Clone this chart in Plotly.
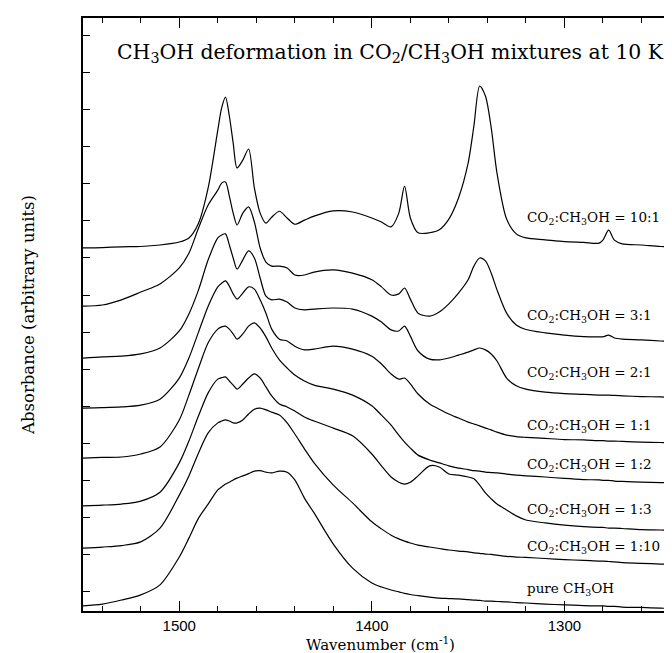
import plotly.graph_objects as go

# Wavenumber grid (cm^-1)
wavenumber = [1550, 1540, 1530, 1520, 1510, 1500, 1495, 1490, 1485, 1480, 1478, 1476, 1474, 1472, 1470,
              1467, 1464, 1461, 1458, 1455, 1452, 1448, 1444, 1440, 1435, 1430, 1420, 1410, 1400, 1395,
              1390, 1386, 1383, 1380, 1376, 1370, 1365, 1360, 1355, 1350, 1347, 1344, 1341, 1338, 1335,
              1330, 1325, 1320, 1310, 1300, 1290, 1282, 1280, 1277, 1274, 1270, 1260, 1250, 1241]

# Offset absorbance (arbitrary units), one list per mixture
ratio_10_1 = [9.27, 9.28, 9.30, 9.31, 9.35, 9.43, 9.54, 9.94, 10.89, 12.45, 13.05, 13.34, 12.83, 12.10, 11.43,
              11.64, 11.94, 10.89, 10.21, 9.94, 10.10, 10.26, 10.08, 9.91, 10.02, 10.13, 10.27, 10.24, 10.08, 9.97,
              9.84, 10.21, 10.94, 10.08, 9.68, 9.68, 9.76, 10.05, 10.62, 11.56, 12.56, 13.64, 13.37, 12.51, 11.29,
              10.05, 9.65, 9.54, 9.49, 9.44, 9.42, 9.40, 9.48, 9.75, 9.48, 9.38, 9.35, 9.31, 9.30]
ratio_3_1 = [7.70, 7.73, 7.87, 8.08, 8.30, 8.73, 9.13, 9.81, 10.43, 10.83, 11.02, 11.05, 10.67, 10.21, 9.89,
             10.21, 10.38, 9.97, 9.27, 8.89, 8.78, 8.78, 8.73, 8.54, 8.54, 8.62, 8.68, 8.59, 8.41, 8.22,
             8.00, 8.03, 8.19, 7.89, 7.51, 7.43, 7.54, 7.76, 8.05, 8.41, 8.78, 9.00, 8.92, 8.59, 8.14,
             7.51, 7.19, 7.07, 6.98, 6.92, 6.88, 6.87, 6.87, 6.92, 6.84, 6.81, 6.79, 6.76, 6.73]
ratio_2_1 = [6.30, 6.33, 6.35, 6.41, 6.57, 7.03, 7.49, 8.14, 8.95, 9.54, 9.62, 9.65, 9.35, 9.00, 8.70,
             8.95, 9.19, 9.00, 8.46, 7.97, 7.87, 7.89, 7.81, 7.65, 7.60, 7.62, 7.65, 7.62, 7.43, 7.27,
             7.06, 7.03, 7.16, 6.89, 6.49, 6.27, 6.25, 6.30, 6.38, 6.46, 6.52, 6.57, 6.52, 6.41, 6.22,
             5.76, 5.55, 5.46, 5.38, 5.34, 5.32, 5.30, 5.30, 5.30, 5.29, 5.28, 5.26, 5.25, 5.23]
ratio_1_1 = [4.95, 4.96, 4.98, 5.03, 5.19, 5.76, 6.30, 7.00, 7.70, 8.22, 8.32, 8.38, 8.24, 8.03, 7.89,
             8.05, 8.22, 8.16, 7.87, 7.51, 7.08, 6.81, 6.76, 6.62, 6.52, 6.54, 6.62, 6.54, 6.35, 6.14,
             5.87, 5.73, 5.76, 5.60, 5.33, 5.06, 4.92, 4.79, 4.68, 4.57, 4.52, 4.47, 4.41, 4.36, 4.30,
             4.22, 4.18, 4.16, 4.13, 4.10, 4.09, 4.07, 4.07, 4.06, 4.06, 4.05, 4.03, 4.02, 4.01]
ratio_1_2 = [3.60, 3.62, 3.63, 3.71, 3.90, 4.63, 5.30, 6.03, 6.71, 7.08, 7.14, 7.16, 7.08, 6.95, 6.81,
             6.95, 7.16, 7.25, 7.11, 6.87, 6.57, 6.25, 6.03, 5.84, 5.68, 5.57, 5.46, 5.30, 5.01, 4.76,
             4.49, 4.22, 4.03, 3.87, 3.68, 3.55, 3.47, 3.39, 3.33, 3.29, 3.26, 3.25, 3.22, 3.21, 3.20,
             3.17, 3.14, 3.12, 3.09, 3.05, 3.02, 3.01, 3.00, 3.00, 2.98, 2.97, 2.95, 2.94, 2.93]
ratio_1_3 = [2.31, 2.33, 2.36, 2.44, 2.68, 3.47, 4.06, 4.74, 5.36, 5.73, 5.77, 5.79, 5.68, 5.57, 5.46,
             5.60, 5.76, 5.87, 5.76, 5.52, 5.28, 5.06, 4.98, 4.87, 4.71, 4.60, 4.41, 4.20, 3.71, 3.39,
             3.09, 2.95, 2.90, 2.95, 3.12, 3.39, 3.36, 3.17, 3.14, 3.09, 3.04, 2.87, 2.66, 2.50, 2.36,
             2.20, 2.04, 1.93, 1.85, 1.79, 1.75, 1.73, 1.73, 1.71, 1.71, 1.70, 1.67, 1.66, 1.64]
ratio_1_10 = [1.17, 1.20, 1.24, 1.34, 1.71, 2.60, 3.12, 3.74, 4.28, 4.55, 4.60, 4.63, 4.60, 4.55, 4.55,
              4.63, 4.79, 4.92, 4.95, 4.90, 4.84, 4.76, 4.55, 4.25, 3.85, 3.47, 2.87, 2.39, 1.88, 1.69,
              1.52, 1.42, 1.36, 1.31, 1.25, 1.20, 1.16, 1.12, 1.09, 1.07, 1.04, 1.03, 1.01, 1.00, 0.98,
              0.95, 0.93, 0.92, 0.89, 0.86, 0.84, 0.82, 0.82, 0.81, 0.80, 0.78, 0.76, 0.74, 0.72]
pure_ch3oh = [-0.39, -0.34, -0.23, -0.09, 0.18, 0.93, 1.44, 1.98, 2.36, 2.74, 2.82, 2.90, 2.95, 3.01, 3.06,
              3.12, 3.18, 3.25, 3.26, 3.22, 3.20, 3.25, 3.22, 3.01, 2.52, 2.12, 1.28, 0.63, 0.23, 0.12,
              0.04, -0.01, -0.05, -0.08, -0.11, -0.15, -0.18, -0.19, -0.20, -0.22, -0.23, -0.24, -0.26, -0.26, -0.27,
              -0.28, -0.30, -0.31, -0.34, -0.36, -0.38, -0.39, -0.39, -0.40, -0.40, -0.42, -0.43, -0.45, -0.46]

series = [ratio_10_1, ratio_3_1, ratio_2_1, ratio_1_1, ratio_1_2, ratio_1_3, ratio_1_10, pure_ch3oh]
labels = ["CO<sub>2</sub>:CH<sub>3</sub>OH = 10:1", "CO<sub>2</sub>:CH<sub>3</sub>OH = 3:1",
          "CO<sub>2</sub>:CH<sub>3</sub>OH = 2:1", "CO<sub>2</sub>:CH<sub>3</sub>OH = 1:1",
          "CO<sub>2</sub>:CH<sub>3</sub>OH = 1:2", "CO<sub>2</sub>:CH<sub>3</sub>OH = 1:3",
          "CO<sub>2</sub>:CH<sub>3</sub>OH = 1:10", "pure CH<sub>3</sub>OH"]

label_x = 1320
label_y = [10.08, 7.43, 5.90, 4.47, 3.41, 2.20, 1.20, 0.07]

SERIF = "DejaVu Serif"

fig = go.Figure()
for ys in series:
    fig.add_trace(go.Scatter(x=wavenumber, y=ys, mode="lines",
                             line=dict(color="black", width=1.2, shape="spline", smoothing=0.8),
                             showlegend=False, hoverinfo="skip"))

for txt, ly in zip(labels, label_y):
    fig.add_annotation(x=label_x, y=ly, xref="x", yref="y", text=txt, showarrow=False,
                       xanchor="left", yanchor="middle", borderpad=0,
                       font=dict(family=SERIF, size=13.5, color="black"))

fig.add_annotation(x=0.5176, y=0.941, xref="paper", yref="paper",
                   text="CH<sub>3</sub>OH deformation in CO<sub>2</sub>/CH<sub>3</sub>OH mixtures at 10 K",
                   showarrow=False, xanchor="center", yanchor="middle",
                   font=dict(family=SERIF, size=20.4, color="black"))

fig.update_layout(
    width=672, height=653,
    margin=dict(l=75, r=0, t=10, b=50),
    paper_bgcolor="white", plot_bgcolor="white",
    xaxis=dict(range=[1550, 1241], tick0=1300, dtick=100, ticks="inside", ticklen=10, tickwidth=1,
               tickcolor="black", mirror="ticks", showline=True, linecolor="black", linewidth=2,
               showgrid=False, zeroline=False,
               minor=dict(ticks="inside", ticklen=5, dtick=20, tick0=1300, tickcolor="black", showgrid=False),
               tickfont=dict(family="Liberation Sans", size=15, color="black"),
               title=dict(text="Wavenumber (cm<sup>-1</sup>)", font=dict(family=SERIF, size=15, color="black"),
                          standoff=6)),
    yaxis=dict(range=[-0.526, 15.475], tick0=0, dtick=1, ticks="inside", ticklen=7, tickwidth=1,
               tickcolor="black", mirror="ticks", showline=True, linecolor="black", linewidth=2,
               showgrid=False, zeroline=False, showticklabels=False,
               title=dict(text="Absorbance (arbitrary units)", font=dict(family=SERIF, size=16.5, color="black"),
                          standoff=42)),
)

fig.write_html("out.html")
